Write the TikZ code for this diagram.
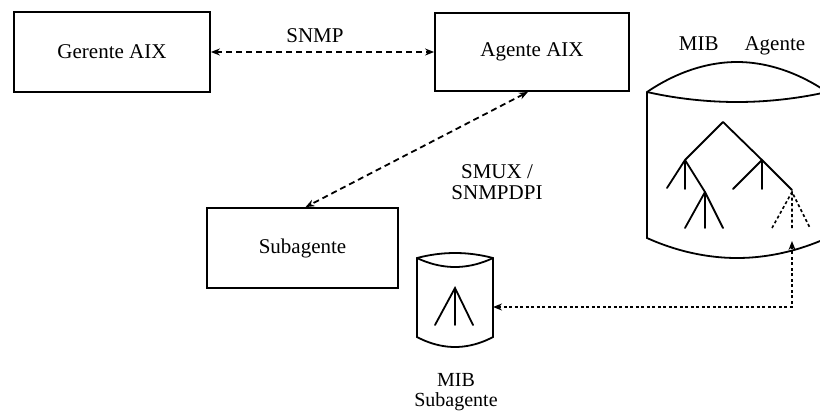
\documentclass[tikz,border=0pt]{standalone}
\usepackage{fontspec}
\setmainfont{Liberation Serif}
\usetikzlibrary{arrows.meta,calc}
\begin{document}
\begin{tikzpicture}[x=1pt,y=-1pt,
  every node/.style={font=\fontsize{21}{24}\selectfont},
  box/.style={draw, line width=1.8pt, inner sep=0pt},
  shp/.style={line width=1.8pt},
  dashline/.style={line width=1.8pt, dash pattern=on 6pt off 4pt, {Stealth[length=9pt,width=7pt]}-{Stealth[length=9pt,width=7pt]}},
  dotline/.style={line width=1.6pt, dash pattern=on 3pt off 2.5pt, {Stealth[length=9pt,width=7pt]}-{Stealth[length=9pt,width=7pt]}},
  lbl/.style={align=center, inner sep=0pt}]
\useasboundingbox (0,0) rectangle (820,416);
\clip (0,0) rectangle (820,416);
% boxes
\node[box, minimum width=196pt, minimum height=80pt] (ger) at (112,52) {Gerente AIX};
\node[box, minimum width=194pt, minimum height=78pt] (age) at (532,52) {Agente AIX};
\node[box, minimum width=191pt, minimum height=80pt] (sub) at (302.5,248) {Subagente};
% labels
\node[lbl] (snmp) at (315,36) {SNMP};
\node[lbl, align=center] (smux) at (497,182) {SMUX /\\[-3pt]SNMPDPI};
\node[lbl] (mibag) at (742,46) {MIB\hspace{26pt}Agente};
\node[lbl, font=\fontsize{20}{22}\selectfont] (mibsub) at (456,392) {MIB\\[-2pt]Subagente};
% MIB Agente cylinder
\draw[shp] (827,92) parabola bend (737,62) (647,92) -- (647,238) parabola bend (737,258) (827,238);
\draw[shp] (647,92) parabola bend (737,102) (827,92);
% tree
\draw[shp, line cap=round, line join=round]
  (685,160) -- (723,122) -- (762,160)
  (667,188) -- (685,160) -- (705,192)
  (685,160) -- (685,189)
  (685,228) -- (705,192) -- (723,228)
  (705,192) -- (705,228)
  (733,189) -- (762,160) -- (792,190)
  (762,160) -- (762,189);
\draw[line width=1.6pt, dash pattern=on 3pt off 2.5pt]
  (772,228) -- (792,192) -- (810,228)
  (792,192) -- (792,228);
% MIB Subagente cylinder
\draw[shp] (493,258) parabola bend (455,253) (417,258) -- (417,337) parabola bend (455,347) (493,337) -- cycle;
\draw[shp] (417,258) parabola bend (455,267) (493,258);
\draw[shp, line cap=round] (435,325) -- (455,288) -- (473,325) (455,288) -- (455,325);
% connector ends
\coordinate (mibA) at (792,241);
\coordinate (mibS) at (493,307);
% connectors
\draw[dashline] (ger.east) -- (age.west);
\draw[dashline] ([xshift=-4pt]age.south) -- ([xshift=3pt]sub.north);
\draw[dotline] (mibS) -- (mibS -| mibA) -- (mibA);
\end{tikzpicture}
\end{document}
